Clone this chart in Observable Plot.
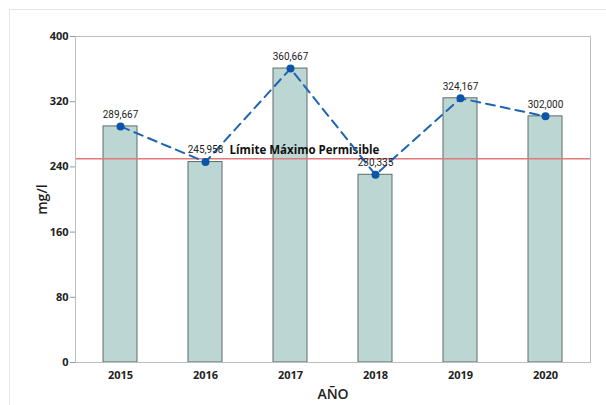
<!DOCTYPE html>
<html><head><meta charset="utf-8">
<script src="https://cdn.jsdelivr.net/npm/d3@7"></script>
<script src="https://cdn.jsdelivr.net/npm/@observablehq/plot@0.6"></script>
<style>
body{margin:0;background:#fff;font-family:"Open Sans",sans-serif;}
#box{position:absolute;left:9px;top:9px;width:640px;height:440px;border:1px solid #e4e4e4;}
#chart{position:absolute;left:0;top:0;}
</style></head><body>
<div id="box"></div>
<div id="chart"></div>
<script>
const years = ["2015","2016","2017","2018","2019","2020"];
const values = [289.667, 245.958, 360.667, 230.335, 324.167, 302.000];
const valueLabels = ["289,667","245,958","360,667","230,335","324,167","302,000"];
const limit = 250;
const limitLabel = "Límite Máximo Permisible";
const yTicks = [0, 80, 160, 240, 320, 400];

const data = years.map((y, i) => ({year: y, value: values[i], label: valueLabels[i]}));

const chart = Plot.plot({
  width: 606, height: 405,
  marginLeft: 75, marginRight: 16, marginTop: 36, marginBottom: 43,
  style: {fontFamily: "Open Sans, sans-serif", fontSize: "11px", color: "#222", background: "transparent"},
  x: {domain: years, paddingInner: 0.6, paddingOuter: 0.3},
  y: {domain: [0, 400]},
  marks: [
    Plot.barY(data, {x: "year", y: "value", fill: "#bcd7d3", stroke: "#5f6b69", strokeWidth: 1}),
    Plot.ruleY([limit], {stroke: "#e07a7a", strokeWidth: 1.3}),
    Plot.text([limitLabel], {x: () => "2017", y: limit, text: d => d, dx: 14, dy: -8, fontWeight: "bold", fontSize: 11.5, fill: "#111"}),
    Plot.line(data, {x: "year", y: "value", stroke: "#1f63b5", strokeWidth: 2, strokeDasharray: "9,6"}),
    Plot.dot(data, {x: "year", y: "value", fill: "#0b56a8", r: 4}),
    Plot.text(data, {x: "year", y: "value", text: "label", dy: -12, fontSize: 10, fontFamily: "Liberation Sans Narrow, Roboto, sans-serif", fill: "#222"}),
    Plot.frame({stroke: "#bdbdbd"}),
    Plot.axisY({ticks: yTicks, tickSize: 5, tickPadding: 2, fontWeight: "bold", fontSize: 11, stroke: "#999", label: "mg/l", labelAnchor: "center", labelOffset: 38, labelArrow: "none"}),
    Plot.axisX({tickSize: 0, tickPadding: 9, fontWeight: "bold", fontSize: 11, label: "AÑO", labelAnchor: "center", labelOffset: 36, labelArrow: "none"})
  ]
});
document.getElementById("chart").appendChild(chart);
chart.querySelectorAll("g[aria-label='y-axis label'] text, g[aria-label='x-axis label'] text").forEach(t => {
  t.setAttribute("font-size", "14");
  t.setAttribute("font-weight", "600");
});
</script>
</body></html>
